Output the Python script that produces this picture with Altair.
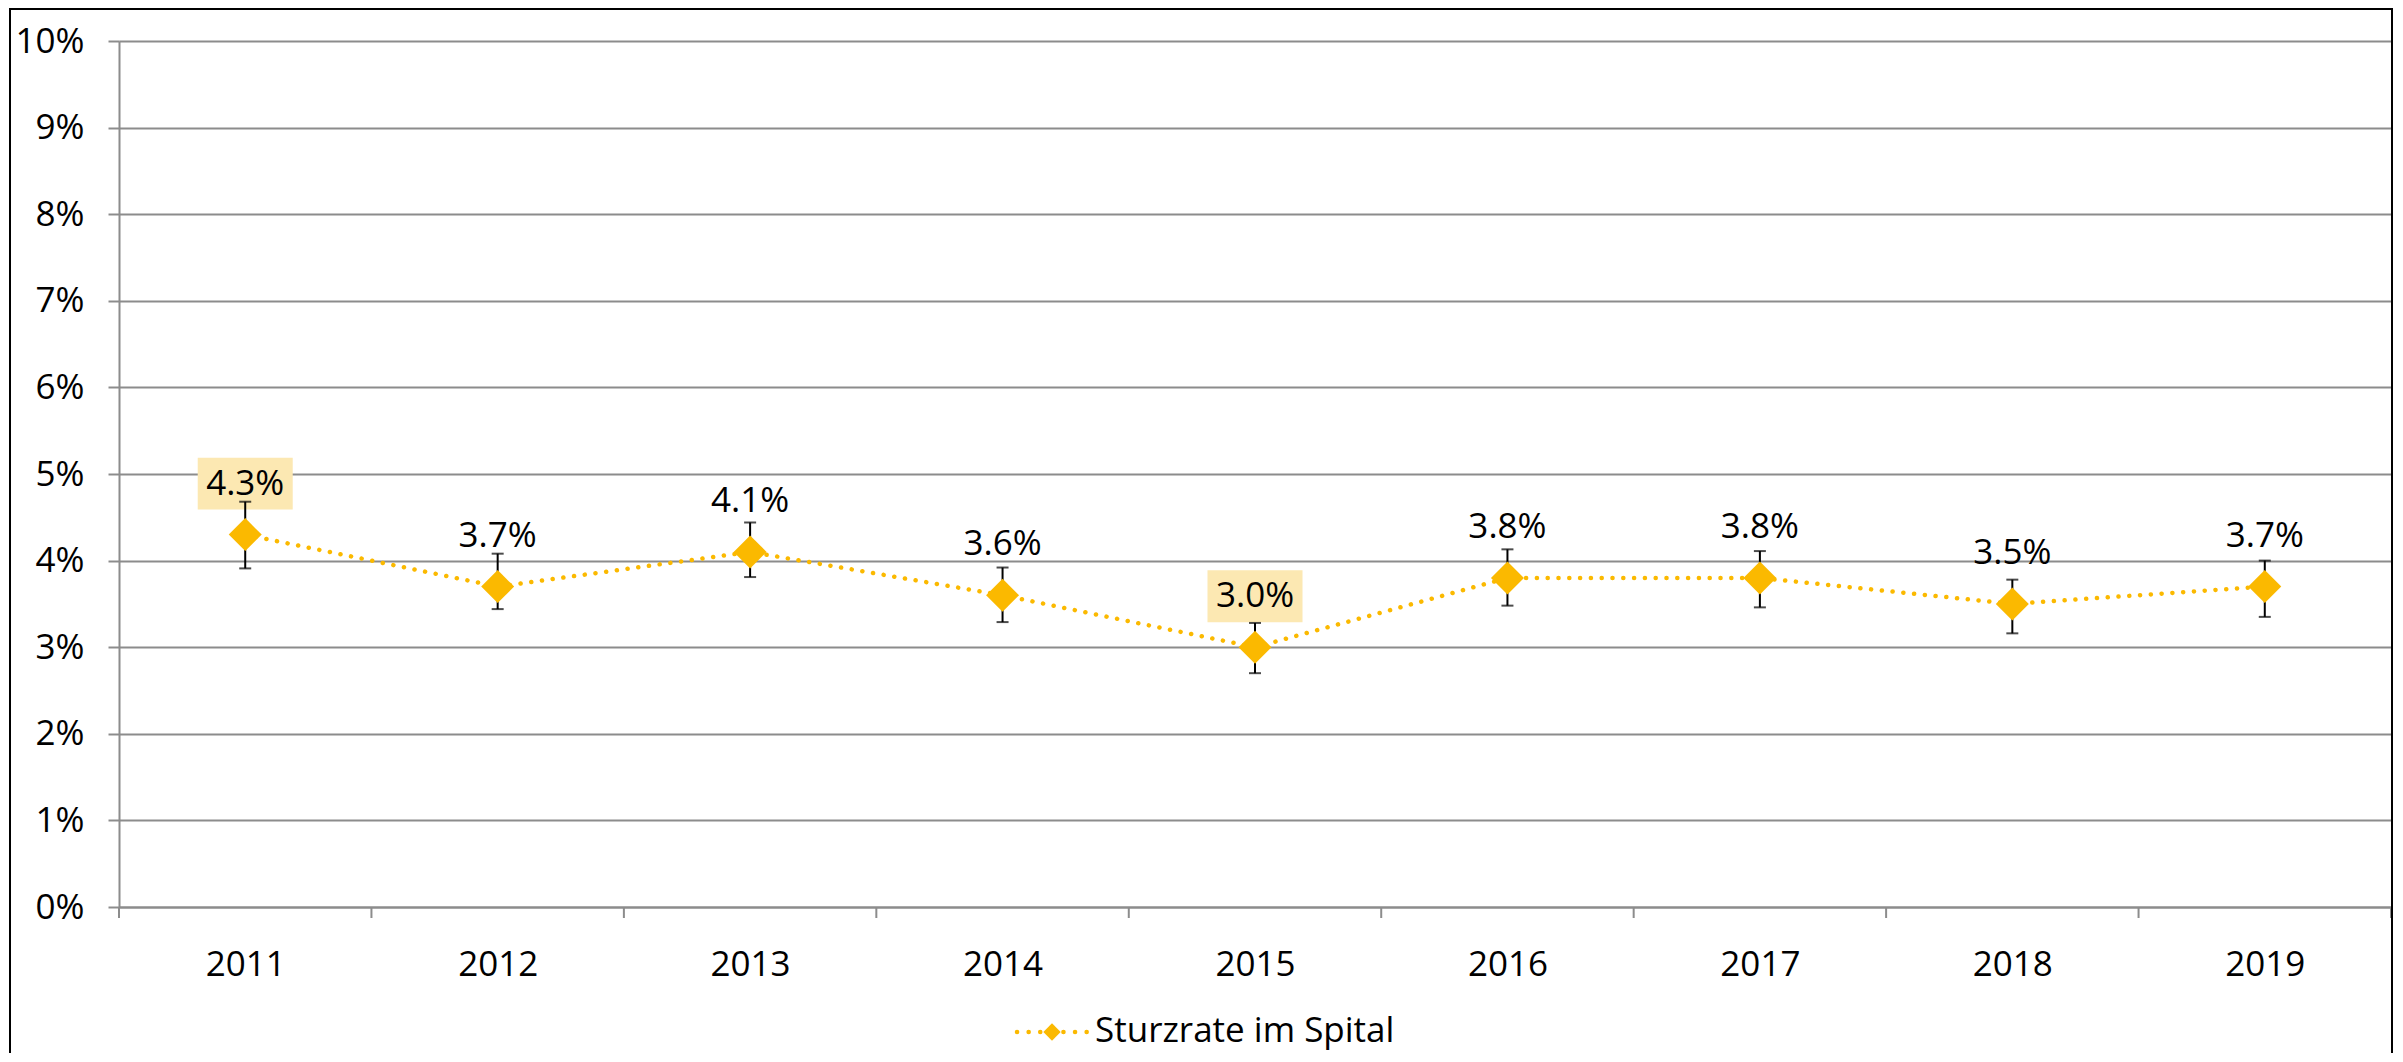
import altair as alt
import pandas as pd

years = [2011, 2012, 2013, 2014, 2015, 2016, 2017, 2018, 2019]
rate = [4.3, 3.7, 4.1, 3.6, 3.0, 3.8, 3.8, 3.5, 3.7]
ci_low = [3.91, 3.44, 3.81, 3.29, 2.70, 3.48, 3.46, 3.16, 3.35]
ci_high = [4.68, 4.08, 4.44, 3.92, 3.28, 4.13, 4.11, 3.78, 4.00]
highlight = [True, False, False, False, True, False, False, False, False]
y_ticks = [0, 1, 2, 3, 4, 5, 6, 7, 8, 9, 10]
series_name = "Sturzrate im Spital"

W, H = 2272, 866
FONT = "Open Sans"
FS = 35
COLOR = "#FBB900"
GRID = "#8c8c8c"

df = pd.DataFrame({"year": years, "rate": rate, "lo": ci_low, "hi": ci_high, "hl": highlight})
df["label"] = [f"{v:.1f}%" for v in rate]
bounds = pd.DataFrame({"b": [y - 0.5 for y in years] + [years[-1] + 0.5]})

xscale = alt.Scale(domain=[years[0] - 0.5, years[-1] + 0.5], nice=False, zero=False)
yscale = alt.Scale(domain=[0, 10], nice=False)

xenc = alt.X("year:Q", scale=xscale, title=None,
             axis=alt.Axis(values=years, format="d", ticks=False, grid=False,
                           domain=True, domainColor=GRID, domainWidth=2,
                           labelFontSize=FS, labelFont=FONT, labelColor="black",
                           labelPadding=40))
yenc = alt.Y("rate:Q", scale=yscale, title=None,
             axis=alt.Axis(values=y_ticks, labelExpr="datum.value + '%'",
                           grid=True, gridColor=GRID, gridWidth=2,
                           tickSize=11, tickColor=GRID, tickWidth=2,
                           domainColor=GRID, domainWidth=2,
                           labelFontSize=FS, labelFont=FONT, labelColor="black",
                           labelPadding=24))

base = alt.Chart(df)

# label backgrounds (highlighted min/max)
rect_path = "M-1,-0.547L1,-0.547L1,0.547L-1,0.547Z"
bg = base.transform_filter("datum.hl").mark_point(
    shape=rect_path, filled=True, size=95 * 95, color="#fce8b2", opacity=1, yOffset=-51
).encode(x=xenc, y=yenc)

err = base.mark_rule(color="black", strokeWidth=2).encode(
    x=alt.X("year:Q", scale=xscale), y=alt.Y("lo:Q", scale=yscale), y2="hi:Q")
cap_lo = base.mark_tick(color="black", orient="horizontal", size=12, thickness=2).encode(
    x=alt.X("year:Q", scale=xscale), y=alt.Y("lo:Q", scale=yscale))
cap_hi = base.mark_tick(color="black", orient="horizontal", size=12, thickness=2).encode(
    x=alt.X("year:Q", scale=xscale), y=alt.Y("hi:Q", scale=yscale))

line = base.mark_line(color=COLOR, strokeWidth=4.5, strokeDash=[0.1, 10.7], strokeCap="round").encode(
    x=alt.X("year:Q", scale=xscale), y=alt.Y("rate:Q", scale=yscale))
pts = base.mark_point(shape="diamond", filled=True, size=1089, color=COLOR, opacity=1).encode(
    x=alt.X("year:Q", scale=xscale), y=alt.Y("rate:Q", scale=yscale))
txt = base.mark_text(font=FONT, fontSize=FS, color="black", baseline="middle", dy=-51).encode(
    x=alt.X("year:Q", scale=xscale), y=alt.Y("rate:Q", scale=yscale), text="label:N")

ticks = alt.Chart(bounds).mark_rule(color=GRID, strokeWidth=2).encode(
    x=alt.X("b:Q", scale=xscale), y=alt.value(H), y2=alt.value(H + 11))

# legend (drawn manually, below plot)
leg_df = pd.DataFrame({"name": [series_name]})
leg_line = alt.Chart(leg_df).mark_rule(color=COLOR, strokeWidth=4.5, strokeDash=[0.1, 11.5], strokeCap="round").encode(
    x=alt.value(898), x2=alt.value(970), y=alt.value(H + 125))
leg_pt = alt.Chart(leg_df).mark_point(shape="diamond", filled=True, size=300, color=COLOR, opacity=1).encode(
    x=alt.value(933), y=alt.value(H + 125))
leg_txt = alt.Chart(leg_df).mark_text(font=FONT, fontSize=FS, color="black", align="left", baseline="middle").encode(
    x=alt.value(976), y=alt.value(H + 124), text="name:N")

# chart frame
frame = alt.Chart(leg_df).mark_rect(fill=None, stroke="black", strokeWidth=2).encode(
    x=alt.value(-109), x2=alt.value(W + 1), y=alt.value(-32), y2=alt.value(H + 300))

chart = alt.layer(
    bg, err, cap_lo, cap_hi, line, pts, txt, ticks, leg_line, leg_pt, leg_txt, frame,
    data=df
).encode(x=xenc, y=yenc).properties(
    width=W, height=H,
    autosize=alt.AutoSizeParams(type="none"),
    padding={"left": 111, "top": 33, "right": 4, "bottom": 146},
).configure_view(stroke=None).configure(background="white")

chart.save("out.html", embed_options={"renderer": "svg", "actions": False})
